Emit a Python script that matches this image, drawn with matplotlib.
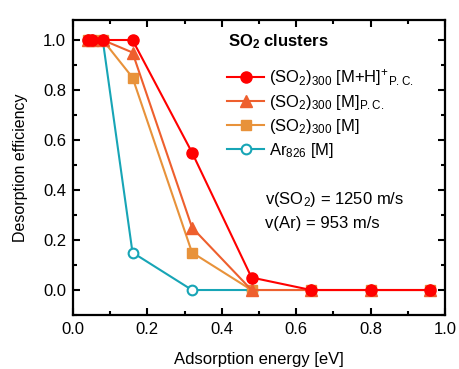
import matplotlib
matplotlib.use("Agg")
import matplotlib.pyplot as plt

plt.rcParams['font.family'] = ['Liberation Sans', 'DejaVu Sans']
plt.rcParams['mathtext.fontset'] = 'custom'
plt.rcParams['mathtext.rm'] = 'Liberation Sans'
plt.rcParams['mathtext.it'] = 'Liberation Sans:italic'
plt.rcParams['mathtext.bf'] = 'Liberation Sans:bold'

energy = [0.04, 0.05, 0.08, 0.16, 0.32, 0.48, 0.64, 0.80, 0.96]
mh_pc = [1.0, 1.0, 1.0, 1.0, 0.55, 0.05, 0.0, 0.0, 0.0]
m_pc = [1.0, 1.0, 1.0, 0.95, 0.25, 0.0, 0.0, 0.0, 0.0]
m_raw = [1.0, 1.0, 1.0, 0.85, 0.15, 0.0, 0.0, 0.0, 0.0]
energy_ar = [0.04, 0.05, 0.08, 0.16, 0.32, 0.48]
ar = [1.0, 1.0, 1.0, 0.15, 0.0, 0.0]

xticks = [0.0, 0.2, 0.4, 0.6, 0.8, 1.0]
xtick_labels = ['0.0', '0.2', '0.4', '0.6', '0.8', '1.0']
yticks = [0.0, 0.2, 0.4, 0.6, 0.8, 1.0]
ytick_labels = ['0.0', '0.2', '0.4', '0.6', '0.8', '1.0']
xminor = [0.1, 0.3, 0.5, 0.7, 0.9]
yminor = [-0.1, 0.1, 0.3, 0.5, 0.7, 0.9]

labels = [r'(SO$_2$)$_{300}$ [M+H]$^{+}$$_{\mathrm{P.C.}}$',
          r'(SO$_2$)$_{300}$ [M]$_{\mathrm{P.C.}}$',
          r'(SO$_2$)$_{300}$ [M]',
          r'Ar$_{826}$ [M]']

fig = plt.figure(figsize=(4.59, 3.69), dpi=100)
ax = fig.add_axes([0.159, 0.1463, 0.8105, 0.7995])

c_red = '#FF0000'
c_tri = '#EE5F2E'
c_sq = '#E8923A'
c_ar = '#17A5B6'

l4, = ax.plot(energy_ar, ar, '-o', color=c_ar, mfc='white', mec=c_ar, ms=7, mew=1.5, lw=1.5, label=labels[3], zorder=2)
l3, = ax.plot(energy, m_raw, '-s', color=c_sq, ms=7, lw=1.5, label=labels[2], zorder=3)
l2, = ax.plot(energy, m_pc, '-^', color=c_tri, ms=8, lw=1.5, label=labels[1], zorder=4)
l1, = ax.plot(energy, mh_pc, '-o', color=c_red, ms=8, lw=1.5, label=labels[0], zorder=5)

ax.set_xlim(0, 1.0)
ax.set_ylim(-0.1, 1.08)
ax.set_xticks(xticks)
ax.set_xticklabels(xtick_labels)
ax.set_yticks(yticks)
ax.set_yticklabels(ytick_labels)
ax.set_xticks(xminor, minor=True)
ax.set_yticks(yminor, minor=True)
ax.tick_params(which='both', direction='in', top=True, right=True, width=1.5, labelsize=12)
ax.tick_params(which='major', length=5, pad=5)
ax.tick_params(which='minor', length=3)
for s in ax.spines.values():
    s.set_linewidth(1.6)

ax.set_xlabel('Adsorption energy [eV]', fontsize=12, labelpad=11)
ax.set_ylabel('Desorption efficiency', fontsize=11.5, labelpad=11)

ax.text(0.417, 0.925, r'$\mathbf{SO_2}$ clusters', transform=ax.transAxes,
        fontsize=12, fontweight='bold', va='center', ha='left')
leg = ax.legend(handles=[l1, l2, l3, l4], loc='upper left', bbox_to_anchor=(0.415, 0.84),
                frameon=False, fontsize=12, handlelength=2.2, handletextpad=0.3,
                labelspacing=0.3, borderpad=0, borderaxespad=0)

ax.text(0.515, 0.39, r'v(SO$_2$) = 1250 m/s', transform=ax.transAxes, fontsize=12, va='center')
ax.text(0.515, 0.31, 'v(Ar) = 953 m/s', transform=ax.transAxes, fontsize=12, va='center')

fig.savefig('out.png', dpi=100)
